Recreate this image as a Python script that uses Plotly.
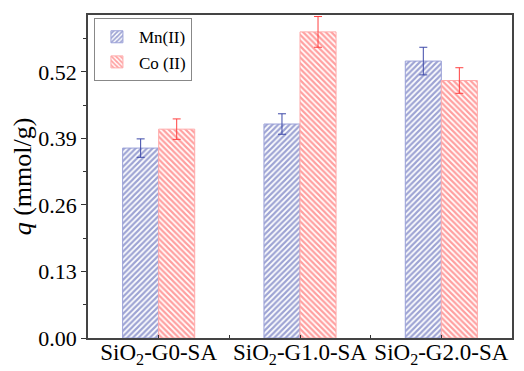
import plotly.graph_objects as go

categories = ["SiO<sub>2</sub>-G0-SA", "SiO<sub>2</sub>-G1.0-SA", "SiO<sub>2</sub>-G2.0-SA"]
mn_values = [0.371, 0.418, 0.541]
mn_errors = [0.018, 0.020, 0.027]
co_values = [0.408, 0.598, 0.503]
co_errors = [0.020, 0.030, 0.025]
y_ticks = [0.00, 0.13, 0.26, 0.39, 0.52]

xpos = list(range(len(categories)))
FONT = "Liberation Serif"
blue = "#3c48a8"
red = "#ff4040"

fig = go.Figure()
fig.add_trace(go.Bar(
    x=xpos, y=mn_values, name="Mn(II)",
    marker=dict(color="white", line=dict(color="#9aa0d8", width=1),
                pattern=dict(shape="/", fgcolor=blue, bgcolor="white", size=4, solidity=0.55)),
    error_y=dict(type="data", array=mn_errors, color=blue, thickness=1, width=4),
))
fig.add_trace(go.Bar(
    x=xpos, y=co_values, name="Co (II)",
    marker=dict(color="white", line=dict(color="#ffaaaa", width=1),
                pattern=dict(shape="\\", fgcolor=red, bgcolor="white", size=4, solidity=0.55)),
    error_y=dict(type="data", array=co_errors, color=red, thickness=1, width=4),
))

fig.update_layout(
    width=516, height=363,
    margin=dict(l=80, r=12, t=7, b=33, autoexpand=False),
    paper_bgcolor="white", plot_bgcolor="white",
    barmode="group", bargap=0.49, bargroupgap=0,
    font=dict(family=FONT, color="black", size=18),
    showlegend=True,
    legend=dict(x=0.014, y=0.99, xanchor="left", yanchor="top",
                bordercolor="#888", borderwidth=1, bgcolor="white",
                font=dict(size=17, family=FONT), tracegroupgap=0,
                itemwidth=34),
)
fig.update_xaxes(
    range=[-0.5, 2.5], tickmode="array", tickvals=xpos, ticktext=categories,
    tickangle=0, ticklabelstandoff=-7,
    ticks="inside", ticklen=3, tickcolor="#333", tickwidth=1,
    minor=dict(tickmode="array", tickvals=[0.5, 1.5], ticks="inside", ticklen=3, tickcolor="#333"),
    showline=True, linecolor="#444", linewidth=1.5, mirror=True,
    showgrid=False, zeroline=False, automargin=False,
    tickfont=dict(size=23, family=FONT),
)
fig.update_yaxes(
    range=[0, 0.631], tickmode="array", tickvals=y_ticks, tickformat=".2f",
    ticks="outside", ticklen=5, tickcolor="#333", tickwidth=1,
    minor=dict(tickmode="array", tickvals=[0.065, 0.195, 0.325, 0.455, 0.585],
               ticks="outside", ticklen=3, tickcolor="#333"),
    showline=True, linecolor="#444", linewidth=1.5, mirror=True,
    showgrid=False, zeroline=False, automargin=False,
    tickfont=dict(size=22, family=FONT),
    title=dict(text="<i>q</i> (mmol/g)", font=dict(size=26, family=FONT), standoff=6),
)

fig.write_html("out.html")
